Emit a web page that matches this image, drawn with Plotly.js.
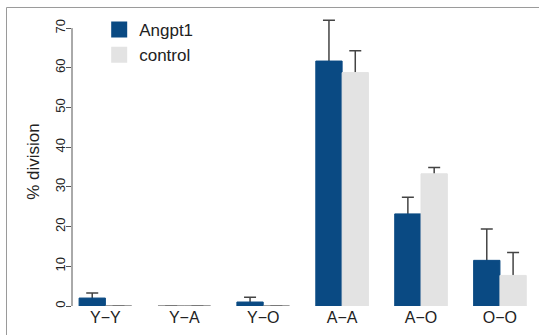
<!DOCTYPE html>
<html>
<head>
<meta charset="utf-8">
<script src="https://cdn.plot.ly/plotly-3.0.1.min.js"></script>
<style>html,body{margin:0;padding:0;background:#fff;}#chart{width:539px;height:335px;}</style>
</head>
<body>
<div id="chart"></div>
<script>
var categories = ["Y\u2212Y", "Y\u2212A", "Y\u2212O", "A\u2212A", "A\u2212O", "O\u2212O"];
var angpt1Values = [2.0, 0, 1.0, 61.7, 23.2, 11.5];
var angpt1Errors = [1.3, null, 1.2, 10.3, 4.2, 7.9];
var controlValues = [0, 0, 0, 58.8, 33.3, 7.7];
var controlErrors = [null, null, null, 5.5, 1.6, 5.8];
var yTicks = [0, 10, 20, 30, 40, 50, 60, 70];

var BLUE = "#0a4a83";
var GRAY = "#e3e3e3";
var ZERO_LINE = "#7d7d7d";
var ERR = "#444";
var FONT = "Liberation Sans, Arial, Helvetica, sans-serif";

function lineColors(vals, fill) {
  return vals.map(function (v) { return v === 0 ? ZERO_LINE : fill; });
}
// lower half of each error bar stays inside its bar (hidden behind it)
function lowerErr(errs, vals) {
  return errs.map(function (e, i) { return e == null ? null : Math.min(e, vals[i]); });
}

function errTrace(vals, errs, group) {
  return {
    type: "bar", x: categories, y: vals, offsetgroup: group, showlegend: false,
    hoverinfo: "skip",
    marker: { color: "rgba(0,0,0,0)", line: { width: 0 } },
    error_y: { type: "data", symmetric: false, array: errs, arrayminus: lowerErr(errs, vals),
               color: ERR, thickness: 1.5, width: 6 }
  };
}
function barTrace(name, vals, fill, group) {
  return {
    type: "bar", name: name, x: categories, y: vals, offsetgroup: group, showlegend: false,
    marker: { color: fill, line: { width: 1, color: lineColors(vals, fill) } }
  };
}
function legendTrace(name, fill) {
  return {
    type: "scatter", mode: "markers", name: name, x: [null], y: [null],
    marker: { symbol: "square", size: 16, color: fill, line: { width: 0 } }
  };
}

var traces = [
  errTrace(angpt1Values, angpt1Errors, "a"),
  errTrace(controlValues, controlErrors, "c"),
  barTrace("Angpt1", angpt1Values, BLUE, "a"),
  barTrace("control", controlValues, GRAY, "c"),
  legendTrace("Angpt1", BLUE),
  legendTrace("control", GRAY)
];

var layout = {
  width: 539, height: 335,
  margin: { l: 72, r: 6, t: 17, b: 29, pad: 0 },
  paper_bgcolor: "#ffffff", plot_bgcolor: "#ffffff",
  font: { family: FONT, color: "#222" },
  barmode: "group", bargap: 1 / 3, bargroupgap: 0,
  showlegend: true,
  legend: {
    x: 0.059, y: 1.0173, xanchor: "left", yanchor: "top", itemsizing: "trace",
    bgcolor: "rgba(0,0,0,0)", font: { family: FONT, size: 17, color: "#222" },
    tracegroupgap: 0
  },
  xaxis: {
    type: "category", range: [-0.423, 5.419], showline: false, showgrid: false, zeroline: false,
    ticks: "", tickfont: { family: FONT, size: 16, color: "#222" }, fixedrange: true
  },
  yaxis: {
    range: [0, 72.8], showline: false, showgrid: false, zeroline: false,
    tickmode: "array", tickvals: yTicks, ticktext: yTicks.map(String),
    ticks: "outside", ticklen: 5, tickwidth: 1, tickcolor: "#555", tickangle: -90,
    ticklabelstandoff: -4,
    tickfont: { family: FONT, size: 13, color: "#222" },
    title: { text: "% division", font: { family: FONT, size: 17, color: "#222" }, standoff: 8 },
    fixedrange: true
  },
  shapes: [
    { type: "line", xref: "paper", yref: "y", x0: 0, x1: 0, y0: yTicks[0], y1: yTicks[yTicks.length - 1],
      line: { color: "#555", width: 1 } },
    { type: "rect", xref: "paper", yref: "paper", x0: -0.14208, x1: 1.2, y0: -0.3, y1: 1.0329,
      line: { color: "#9a9a9a", width: 1 }, fillcolor: "rgba(0,0,0,0)" }
  ]
};

Plotly.newPlot("chart", traces, layout, { displayModeBar: false, staticPlot: true });
</script>
</body>
</html>
